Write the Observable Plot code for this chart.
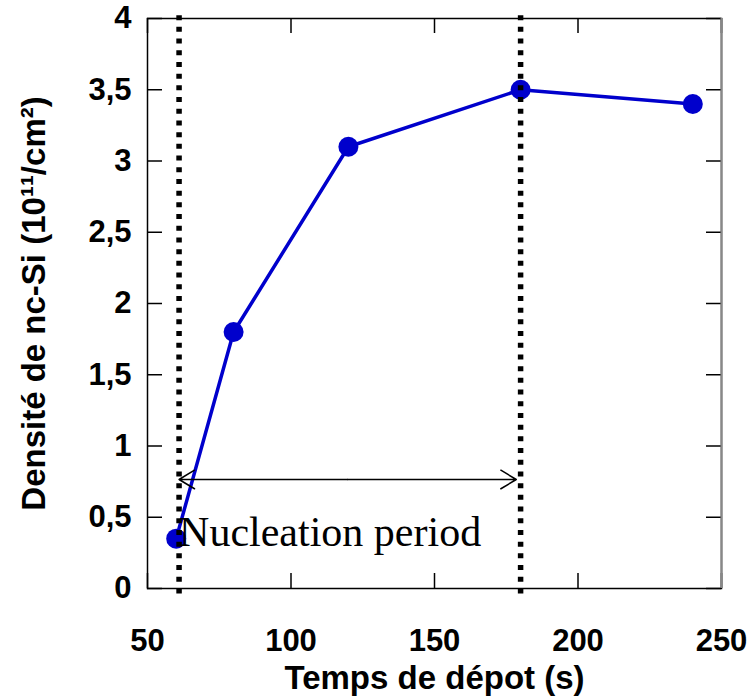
<!DOCTYPE html>
<html>
<head>
<meta charset="utf-8">
<script src="https://cdn.jsdelivr.net/npm/d3@7"></script>
<script src="https://cdn.jsdelivr.net/npm/@observablehq/plot@0.6"></script>
<style>
  html, body { margin: 0; padding: 0; background: #fff; }
</style>
</head>
<body>
<div id="chart"></div>
<script>
// Data
const times = [60, 80, 120, 180, 240];
const densities = [0.35, 1.8, 3.1, 3.5, 3.4];
const xTicks = [50, 100, 150, 200, 250];
const yTicks = [0, 0.5, 1, 1.5, 2, 2.5, 3, 3.5, 4];
const boundaryTimes = [61, 180];
const arrowLevel = 0.765;
const arrowStart = 61;
const arrowEnd = 178.5;
const annotationText = "Nucleation period";
const annotationLevel = 0.30;
const xLabel = "Temps de dépot (s)";
const yLabel = "Densité de nc-Si (10¹¹/cm²)";

const data = times.map((t, i) => ({t, d: densities[i]}));
const mid = (arrowStart + arrowEnd) / 2;
const arrows = [{x1: mid, x2: arrowStart}, {x1: mid, x2: arrowEnd}];

const W = 751, H = 698;
const mL = 147, mR = 30, mT = 18, mB = 110;
const innerW = W - mL - mR, innerH = H - mT - mB;
const tick = 15;

const chart = Plot.plot({
  width: W,
  height: H,
  marginLeft: mL,
  marginRight: mR,
  marginTop: mT,
  marginBottom: mB,
  style: {fontFamily: "'Liberation Sans', Arial, sans-serif", background: "#fff", color: "black"},
  x: {domain: [50, 250]},
  y: {domain: [0, 4]},
  marks: [
    Plot.axisX({ticks: xTicks, tickSize: 0, tickPadding: 40, fontSize: 31, fontWeight: "bold", label: null, tickFormat: d => String(d)}),
    Plot.axisY({ticks: yTicks, tickSize: 0, tickPadding: 16, fontSize: 31, fontWeight: "bold", label: null, tickFormat: d => String(d).replace(".", ",")}),
    // inner ticks
    Plot.tickX(xTicks, {x: d => d, insetTop: innerH - tick, stroke: "black", strokeWidth: 1.5}),
    Plot.tickX(xTicks, {x: d => d, insetBottom: innerH - tick, stroke: "black", strokeWidth: 1.5}),
    Plot.tickY(yTicks, {y: d => d, insetRight: innerW - tick, stroke: "black", strokeWidth: 1.5}),
    Plot.tickY(yTicks, {y: d => d, insetLeft: innerW - tick, stroke: "black", strokeWidth: 1.5}),
    Plot.frame({stroke: "black", strokeWidth: 1.5}),
    Plot.ruleX([250], {x: d => d, stroke: "#888", strokeWidth: 2}),
    // data
    Plot.line(data, {x: "t", y: "d", stroke: "#0000cc", strokeWidth: 3.5}),
    Plot.dot(data, {x: "t", y: "d", r: 10, fill: "#0000cc", stroke: "none"}),
    // dotted boundaries
    Plot.ruleX(boundaryTimes, {x: d => d, y1: 4.02, y2: -0.05, stroke: "black", strokeWidth: 5.5, strokeDasharray: "5,6.7"}),
    // double arrow
    Plot.arrow(arrows, {x1: "x1", x2: "x2", y1: arrowLevel, y2: arrowLevel, bend: 0, headLength: 18, headAngle: 62, stroke: "black", strokeWidth: 1.5}),
    Plot.text([annotationText], {x: arrowStart, y: annotationLevel, text: d => d, textAnchor: "start", lineAnchor: "bottom", fontSize: 42, fontFamily: "'Liberation Serif', 'Times New Roman', serif", fontWeight: "normal", fill: "black"}),
    // axis labels
    Plot.text([xLabel], {text: d => d, frameAnchor: "bottom", dy: 100, textAnchor: "middle", lineAnchor: "bottom", fontSize: 33, fontWeight: "bold", fill: "black"}),
    Plot.text([yLabel], {text: d => d, frameAnchor: "left", rotate: -90, dx: -103, textAnchor: "middle", lineAnchor: "bottom", fontSize: 33, fontWeight: "bold", fill: "black"})
  ]
});

document.getElementById("chart").appendChild(chart);
</script>
</body>
</html>
